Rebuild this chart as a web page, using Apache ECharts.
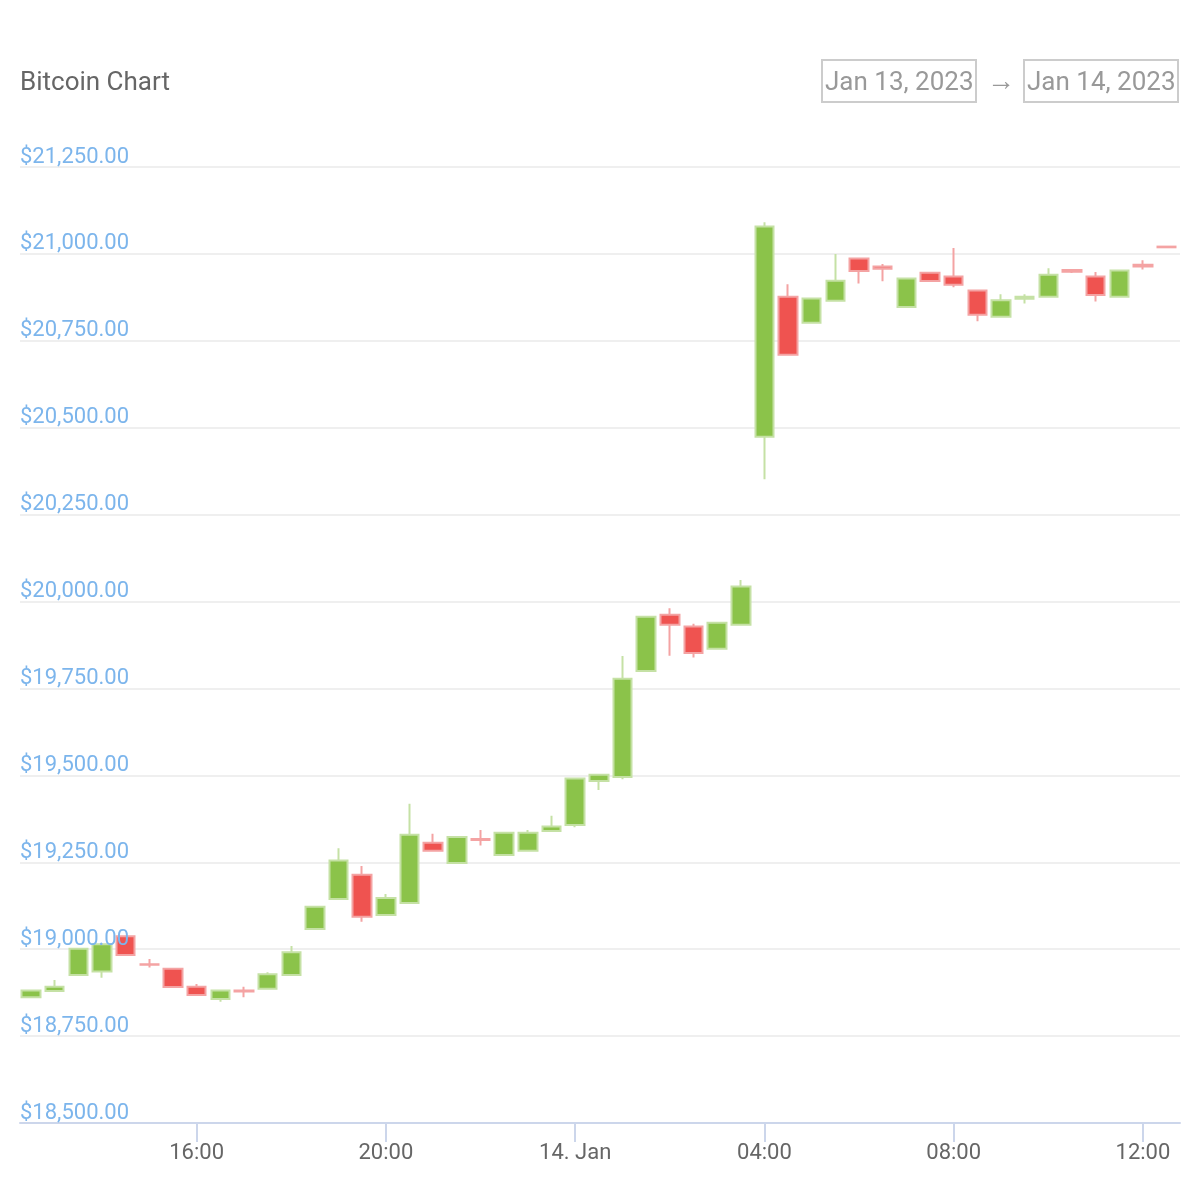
<!DOCTYPE html>
<html>
<head>
<meta charset="utf-8">
<script src="https://cdn.jsdelivr.net/npm/echarts@6/dist/echarts.min.js"></script>
<style>
  html, body { margin: 0; padding: 0; background: #ffffff; }
  #chart { width: 1200px; height: 1200px; }
</style>
</head>
<body>
<div id="chart"></div>
<script>
// ---- data (30-minute candles, UTC) ----
const times = [
  '2023-01-13 12:30','2023-01-13 13:00','2023-01-13 13:30','2023-01-13 14:00','2023-01-13 14:30',
  '2023-01-13 15:00','2023-01-13 15:30','2023-01-13 16:00','2023-01-13 16:30','2023-01-13 17:00',
  '2023-01-13 17:30','2023-01-13 18:00','2023-01-13 18:30','2023-01-13 19:00','2023-01-13 19:30',
  '2023-01-13 20:00','2023-01-13 20:30','2023-01-13 21:00','2023-01-13 21:30','2023-01-13 22:00',
  '2023-01-13 22:30','2023-01-13 23:00','2023-01-13 23:30','2023-01-14 00:00','2023-01-14 00:30',
  '2023-01-14 01:00','2023-01-14 01:30','2023-01-14 02:00','2023-01-14 02:30','2023-01-14 03:00',
  '2023-01-14 03:30','2023-01-14 04:00','2023-01-14 04:30','2023-01-14 05:00','2023-01-14 05:30',
  '2023-01-14 06:00','2023-01-14 06:30','2023-01-14 07:00','2023-01-14 07:30','2023-01-14 08:00',
  '2023-01-14 08:30','2023-01-14 09:00','2023-01-14 09:30','2023-01-14 10:00','2023-01-14 10:30',
  '2023-01-14 11:00','2023-01-14 11:30','2023-01-14 12:00','2023-01-14 12:30'
];
const openValues = [
  18862,18880,18926,18936,19037,18957,18944,18892,18857,18881,
  18886,18926,19058,19144,19214,19098,19133,19306,19248,19317,
  19271,19283,19340,19357,19484,19495,19800,19962,19928,19864,
  19933,20474,20877,20802,20865,20987,20964,20847,20946,20935,
  20895,20819,20871,20877,20954,20935,20877,20969,21021
];
const closeValues = [
  18881,18892,19001,19014,18983,18955,18891,18868,18881,18878,
  18928,18991,19122,19255,19093,19147,19329,19283,19323,19314,
  19335,19335,19353,19491,19502,19778,19956,19933,19852,19939,
  20043,21079,20710,20872,20923,20951,20957,20929,20922,20911,
  20825,20867,20877,20940,20949,20882,20952,20964,21019
];
const lowValues = [
  18859,18879,18925,18918,18982,18947,18890,18867,18849,18862,
  18885,18925,19057,19143,19079,19097,19132,19282,19247,19298,
  19268,19282,19339,19351,19458,19489,19799,19844,19839,19861,
  19932,20352,20709,20801,20864,20915,20921,20846,20921,20904,
  20806,20818,20857,20876,20945,20863,20876,20955,21019
];
const highValues = [
  18881,18911,19002,19015,19038,18972,18945,18900,18882,18892,
  18934,19009,19123,19290,19239,19159,19418,19332,19324,19343,
  19336,19343,19384,19492,19503,19843,19957,19981,19936,19940,
  20062,21091,20913,20873,21000,20988,20971,20930,20947,21017,
  20896,20884,20884,20959,20955,20948,20953,20982,21021
];
const xTickTimes = ['2023-01-13 16:00','2023-01-13 20:00','2023-01-14 00:00','2023-01-14 04:00','2023-01-14 08:00','2023-01-14 12:00'];
const xRange = ['2023-01-13 12:16','2023-01-14 12:47'];
const yMin = 18500, yMax = 21250, yStep = 250;
const titleText = 'Bitcoin Chart';
const rangeFrom = 'Jan 13, 2023';
const rangeTo = 'Jan 14, 2023';
const monthNames = ['Jan','Feb','Mar','Apr','May','Jun','Jul','Aug','Sep','Oct','Nov','Dec'];

function toMs(s) {
  const [d, t] = s.split(' ');
  const [Y, M, D] = d.split('-').map(Number);
  const [h, m] = t.split(':').map(Number);
  return Date.UTC(Y, M - 1, D, h, m);
}
function pad(n) { return (n < 10 ? '0' : '') + n; }
function fmtTime(v) {
  const dt = new Date(v);
  const h = dt.getUTCHours(), m = dt.getUTCMinutes();
  if (h === 0 && m === 0) return dt.getUTCDate() + '. ' + monthNames[dt.getUTCMonth()];
  return pad(h) + ':' + pad(m);
}
function fmtMoney(v) {
  return '$' + Number(v).toLocaleString('en-US', { minimumFractionDigits: 2, maximumFractionDigits: 2 });
}

const candleData = times.map((t, i) => [toMs(t), openValues[i], closeValues[i], lowValues[i], highValues[i]]);
const xTicks = xTickTimes.map(toMs);

const FONT = 'Roboto, "Noto Sans", sans-serif';
const chart = echarts.init(document.getElementById('chart'), null, { renderer: 'canvas' });
chart.setOption({
  animation: false,
  backgroundColor: '#ffffff',
  useUTC: true,
  title: [
    { text: titleText, left: 20, top: 70, padding: 0,
      textStyle: { fontFamily: FONT, fontSize: 26, fontWeight: 'normal', color: '#666666', lineHeight: 26 } },
    { text: rangeFrom, left: 822, top: 60, padding: [10, 3, 6, 3], borderColor: '#cccccc', borderWidth: 2,
      textStyle: { fontFamily: FONT, fontSize: 26, fontWeight: 'normal', color: '#999999', lineHeight: 26 } },
    { text: '\u2192', left: 987, top: 69, padding: 0,
      textStyle: { fontFamily: FONT, fontSize: 28, fontWeight: 'normal', color: '#999999', lineHeight: 28 } },
    { text: rangeTo, left: 1024, top: 60, padding: [10, 3, 6, 3], borderColor: '#cccccc', borderWidth: 2,
      textStyle: { fontFamily: FONT, fontSize: 26, fontWeight: 'normal', color: '#999999', lineHeight: 26 } }
  ],
  grid: { left: 20, right: 20, top: 167, bottom: 77, containLabel: false, outerBoundsMode: 'none' },
  xAxis: {
    type: 'value',
    min: toMs(xRange[0]),
    max: toMs(xRange[1]),
    axisLine: { show: true, lineStyle: { color: '#ccd6eb', width: 2 } },
    axisTick: { show: true, length: 19, customValues: xTicks, lineStyle: { color: '#ccd6eb', width: 2 } },
    axisLabel: { customValues: xTicks, formatter: fmtTime, color: '#666666', fontSize: 22, fontFamily: FONT, margin: 19 },
    splitLine: { show: false }
  },
  yAxis: [
    {
      type: 'value', min: yMin, max: yMax, interval: yStep, z: 0,
      axisLine: { show: false }, axisTick: { show: false },
      axisLabel: { show: false },
      splitLine: { show: true, lineStyle: { color: '#efefef', width: 2 } }
    },
    {
      type: 'value', min: yMin, max: yMax, interval: yStep, z: 10, position: 'left',
      axisLine: { show: false }, axisTick: { show: false },
      splitLine: { show: false },
      axisLabel: { inside: true, margin: 0, formatter: fmtMoney, color: '#7cb5ec', fontSize: 22,
        fontFamily: FONT, verticalAlign: 'bottom', lineHeight: 20 }
    }
  ],
  series: [{
    type: 'candlestick',
    yAxisIndex: 0,
    barWidth: 19,
    encode: { x: 0, y: [1, 2, 3, 4] },
    data: candleData,
    itemStyle: {
      color: '#8bc34a', color0: '#ef5350',
      borderColor: '#c5e1a5', borderColor0: '#f4a3a3', borderWidth: 2
    }
  }]
});
</script>
</body>
</html>
